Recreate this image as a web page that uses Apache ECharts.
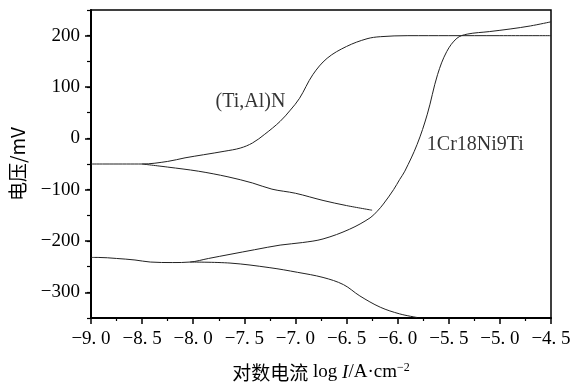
<!DOCTYPE html>
<html>
<head>
<meta charset="utf-8">
<script src="https://cdn.jsdelivr.net/npm/echarts@6/dist/echarts.min.js"></script>
<style>html,body{margin:0;padding:0;background:#fff;}#c{width:574px;height:383px;}</style>
</head>
<body>
<div id="c"></div>
<script>
// (Ti,Al)N anodic branch (including the flat part near Ecorr)
const tialnAnodX = [-9.0, -8.5, -8.25, -8.08, -7.9, -7.69, -7.54, -7.42, -7.3, -7.15, -7.05, -6.96, -6.83, -6.69, -6.5, -6.3, -6.17, -5.9, -5.5, -5.0, -4.5];
const tialnAnodY = [-50, -50, -45, -38, -32, -25, -19, -9, 8, 33, 55, 78, 124, 156, 179, 194, 198, 200, 200, 200, 200];
// (Ti,Al)N cathodic branch
const tialnCathX = [-8.5, -8.25, -7.95, -7.66, -7.42, -7.23, -7.0, -6.73, -6.5, -6.25];
const tialnCathY = [-50, -56, -64, -75, -87, -99, -107, -121, -131, -140];
// 1Cr18Ni9Ti anodic branch (including flat part)
const crAnodX = [-9.0, -8.93, -8.75, -8.57, -8.42, -8.2, -8.03, -7.85, -7.64, -7.4, -7.15, -6.93, -6.73, -6.47, -6.27, -6.2, -6.14, -6.04, -5.98, -5.93, -5.81, -5.71, -5.61, -5.52, -5.42, -5.32, -5.1, -4.9, -4.7, -4.5];
const crAnodY = [-232, -232, -234, -237, -241, -242, -241, -234, -226, -217, -208, -203, -196, -177, -155, -142, -128, -100, -80, -64, -12, 47, 124, 169, 195, 203, 208, 213, 219, 227];
// 1Cr18Ni9Ti cathodic branch
const crCathX = [-8.03, -7.64, -7.25, -6.98, -6.73, -6.53, -6.37, -6.17, -5.98, -5.81];
const crCathY = [-241, -243, -252, -261, -271, -285, -307, -329, -342, -349];
// curve labels
const labelNames = ['(Ti,Al)N', '1Cr18Ni9Ti'];
const labelX = [-7.44, -5.24];
const labelY = [72, -12];
// axes
const xTicks = [-9.0, -8.5, -8.0, -7.5, -7.0, -6.5, -6.0, -5.5, -5.0, -4.5];
const yMajor = [-300, -200, -100, 0, 100, 200];

const zip = (xs, ys) => xs.map((x, i) => [x, ys[i]]);
const serif = '"Liberation Serif","DejaVu Serif",serif';
const lineStyle = { color: '#222', width: 1 };
const mkLine = (xs, ys) => ({ type: 'line', data: zip(xs, ys), showSymbol: false, symbol: 'none', smooth: 0.35, lineStyle, xAxisIndex: 0, yAxisIndex: 0, z: 3 });
const fmtNum = (v, d) => {
  let s = d ? Math.abs(v).toFixed(1).replace('.', '. ') : String(Math.abs(v));
  return (v < 0 ? '\u2212' : '') + s;
};

const chart = echarts.init(document.getElementById('c'), null, { renderer: 'canvas' });
chart.setOption({
  animation: false,
  backgroundColor: '#fff',
  grid: { left: 91, right: 23, top: 10, bottom: 65, containLabel: false, outerBoundsMode: 'none',
    show: true, borderColor: '#000', borderWidth: 1.5, backgroundColor: 'transparent' },
  xAxis: [{
    type: 'value', min: -9, max: -4.5, interval: 0.5,
    axisLine: { show: true, onZero: false, lineStyle: { color: '#000', width: 2 } },
    axisTick: { show: true, inside: false, length: 6, lineStyle: { color: '#000', width: 1.5 } },
    minorTick: { show: true, splitNumber: 2, length: 3, lineStyle: { color: '#000', width: 1.2 } },
    splitLine: { show: false },
    axisLabel: { margin: 12, color: '#000', fontFamily: serif, fontSize: 19, formatter: v => fmtNum(v, true) },
    name: '{a|对数电流}{b| log }{i|I}{b|/A·cm}{s|−2}',
    nameLocation: 'middle', nameGap: 44,
    nameTextStyle: {
      rich: {
        a: { fontFamily: '"Noto Sans CJK SC"', fontSize: 19, color: '#000' },
        b: { fontFamily: serif, fontSize: 19, color: '#000' },
        i: { fontFamily: serif, fontSize: 19, fontStyle: 'italic', color: '#000' },
        s: { fontFamily: serif, fontSize: 12, color: '#000', verticalAlign: 'top', padding: [0, 0, 9, 0] }
      }
    }
  }],
  yAxis: [{
    type: 'value', min: -350, max: 250, interval: 50,
    axisLine: { show: true, onZero: false, lineStyle: { color: '#000', width: 2 } },
    axisTick: { show: true, inside: false, length: 4, lineStyle: { color: '#000', width: 1.2 } },
    splitLine: { show: false },
    axisLabel: { margin: 11, color: '#000', fontFamily: serif, fontSize: 19,
      formatter: v => (yMajor.indexOf(v) >= 0 ? fmtNum(v, false) : '') },
    name: '电压/mV', nameLocation: 'middle', nameGap: 64,
    nameTextStyle: { fontFamily: '"Noto Sans CJK SC"', fontSize: 19, color: '#000' }
  }, {
    type: 'value', min: -350, max: 250, position: 'left',
    axisLine: { show: false },
    axisTick: { show: true, inside: false, length: 6, customValues: yMajor, lineStyle: { color: '#000', width: 1.5 } },
    axisLabel: { show: false },
    splitLine: { show: false }
  }],
  series: [
    mkLine(tialnAnodX, tialnAnodY),
    mkLine(tialnCathX, tialnCathY),
    mkLine(crAnodX, crAnodY),
    mkLine(crCathX, crCathY),
    {
      type: 'scatter', symbolSize: 0, z: 5,
      data: labelNames.map((n, i) => ({ name: n, value: [labelX[i], labelY[i]] })),
      label: { show: true, position: 'inside', formatter: p => p.name, color: '#000', fontFamily: serif, fontSize: 20 }
    }
  ]
});
</script>
</body>
</html>
